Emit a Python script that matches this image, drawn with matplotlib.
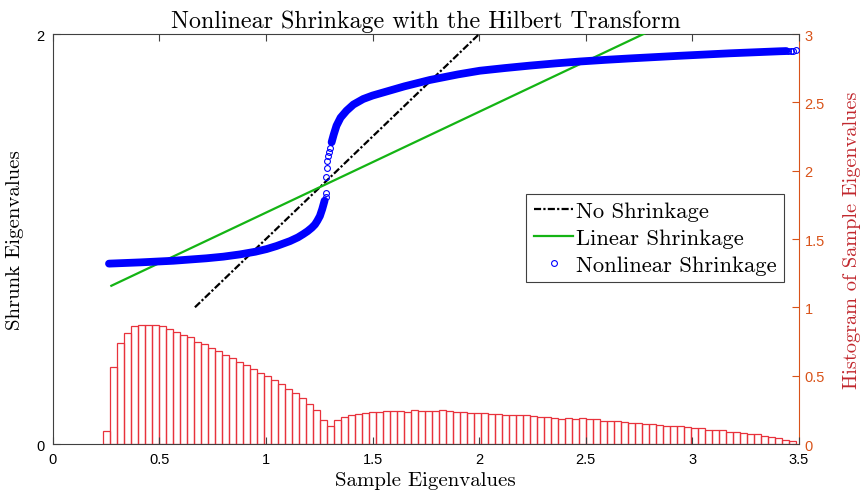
import numpy as np
import matplotlib
matplotlib.use('Agg')
import matplotlib.pyplot as plt
from matplotlib.lines import Line2D

# ---------------- data ----------------
hist_left_edge = 0.237
hist_right_edge = 3.488
hist_heights = [
    0.097, 0.56, 0.74, 0.81, 0.86, 0.87, 0.87, 0.87, 0.86, 0.84,
    0.82, 0.80, 0.78, 0.75, 0.73, 0.70, 0.68, 0.65, 0.63, 0.60,
    0.576, 0.55, 0.52, 0.50, 0.466, 0.437, 0.405, 0.375, 0.334, 0.295,
    0.25, 0.175, 0.13, 0.173, 0.197, 0.212, 0.22, 0.229, 0.234, 0.236,
    0.244,
    0.244, 0.244, 0.237, 0.246, 0.244, 0.242, 0.242, 0.246, 0.239, 0.232,
    0.237, 0.230, 0.227, 0.227, 0.217, 0.217, 0.215, 0.212, 0.212, 0.210,
    0.203, 0.200, 0.195, 0.193, 0.186, 0.193, 0.183, 0.188, 0.181,
    0.185, 0.168, 0.168, 0.168, 0.158, 0.151, 0.151, 0.149, 0.144, 0.142,
    0.132, 0.130, 0.130, 0.127, 0.115, 0.120, 0.105, 0.105, 0.102, 0.090,
    0.088, 0.078, 0.073, 0.071, 0.056, 0.049, 0.046, 0.032, 0.020,
]

no_shrink_x = [0.667, 3.49]
no_shrink_y = [0.667, 3.49]

linear_x = [0.275, 3.49]
linear_y = [0.772, 2.354]

nl_lower_x = [0.264, 0.409, 0.565, 0.721, 0.800, 0.878, 0.950, 1.003, 1.050, 1.113,
              1.150, 1.175, 1.195, 1.215, 1.230, 1.241, 1.253, 1.264, 1.275]
nl_lower_y = [0.880, 0.886, 0.894, 0.906, 0.914, 0.925, 0.938, 0.951, 0.966, 0.990,
              1.008, 1.024, 1.038, 1.055, 1.071, 1.089, 1.112, 1.146, 1.187]
nl_sparse_x = [1.280, 1.283, 1.283, 1.285, 1.288, 1.293, 1.297, 1.302]
nl_sparse_y = [1.205, 1.224, 1.301, 1.346, 1.382, 1.405, 1.423, 1.445]
nl_upper_x = [1.308, 1.318, 1.331, 1.350, 1.378, 1.410, 1.456, 1.500, 1.550, 1.650,
              1.769, 1.900, 2.003, 2.120, 2.238, 2.360, 2.472, 2.590, 2.706, 2.941,
              3.175, 3.410, 3.440]
nl_upper_y = [1.472, 1.510, 1.553, 1.592, 1.626, 1.656, 1.683, 1.700, 1.715, 1.745,
              1.776, 1.803, 1.821, 1.834, 1.846, 1.857, 1.866, 1.874, 1.881, 1.894,
              1.906, 1.916, 1.917]
nl_end_x = [3.450, 3.462, 3.474, 3.484]
nl_end_y = [1.918, 1.919, 1.919, 1.920]

x_ticks = [0, 0.5, 1, 1.5, 2, 2.5, 3, 3.5]
x_ticklabels = ['0', '0.5', '1', '1.5', '2', '2.5', '3', '3.5']
left_ticks = [0, 2]
left_ticklabels = ['0', '2']
right_ticks = [0, 0.5, 1, 1.5, 2, 2.5, 3]
right_ticklabels = ['0', '0.5', '1', '1.5', '2', '2.5', '3']

# ---------------- styling ----------------
SERIF = 'cmr10'
SANS = 'Liberation Sans'
ORANGE = '#D95319'
RIGHTLABEL = '#C1272D'
AXCOL = '#404040'
BLUE = '#0000FF'
GREEN = '#14B414'
HISTRED = '#E8323C'
NS_DASH = (0, (3.2, 1.0, 1.0, 1.0))

fig = plt.figure(figsize=(8.64, 5.02), dpi=100)
ax = fig.add_axes([0.061, 0.1135, 0.8638, 0.8167])
ax2 = ax.twinx()

# histogram on the right axis
n_bins = len(hist_heights)
edges = np.linspace(hist_left_edge, hist_right_edge, n_bins + 1)
ax2.bar(edges[:-1], hist_heights, width=np.diff(edges), align='edge',
        fill=False, edgecolor=HISTRED, linewidth=0.9, zorder=1)
ax2.set_ylim(0, 3)
ax2.set_yticks(right_ticks)
ax2.set_yticklabels(right_ticklabels, fontfamily=SANS, fontsize=10.5, color=ORANGE)
ax2.tick_params(axis='y', direction='in', length=5, width=0.8, color=ORANGE, pad=4)
ax2.spines['right'].set_color(ORANGE)
ax2.spines['right'].set_linewidth(0.8)
for s in ['left', 'top', 'bottom']:
    ax2.spines[s].set_visible(False)
ax2.set_ylabel('Histogram of Sample Eigenvalues', fontfamily=SERIF, fontsize=14.6,
               color=RIGHTLABEL, labelpad=13)

# curves on the left axis (drawn above the histogram)
ax.set_zorder(ax2.get_zorder() + 1)
ax.patch.set_visible(False)

ax.plot(no_shrink_x, no_shrink_y, color='black', linewidth=1.6,
        linestyle=NS_DASH, zorder=3)
ax.plot(linear_x, linear_y, color=GREEN, linewidth=1.6, zorder=3)
ax.plot(nl_lower_x, nl_lower_y, color=BLUE, linewidth=5.6,
        solid_capstyle='round', solid_joinstyle='round', zorder=4)
ax.plot(nl_upper_x, nl_upper_y, color=BLUE, linewidth=5.6,
        solid_capstyle='round', solid_joinstyle='round', zorder=4)
ax.plot(nl_sparse_x + nl_end_x, nl_sparse_y + nl_end_y, linestyle='none', marker='o',
        markersize=4.2, markerfacecolor='none', markeredgecolor=BLUE,
        markeredgewidth=0.8, zorder=4)

ax.set_xlim(0, 3.5)
ax.set_ylim(0, 2)
ax.set_xticks(x_ticks)
ax.set_xticklabels(x_ticklabels, fontfamily=SANS, fontsize=10.5)
ax.set_yticks(left_ticks)
ax.set_yticklabels(left_ticklabels, fontfamily=SANS, fontsize=10.5)
ax.tick_params(axis='x', direction='in', length=5, width=0.8, color=AXCOL,
               top=True, pad=6)
ax.tick_params(axis='y', direction='in', length=5, width=0.8, color=AXCOL, pad=6)
for s in ['left', 'top', 'bottom']:
    ax.spines[s].set_color(AXCOL)
    ax.spines[s].set_linewidth(0.8)
ax.spines['right'].set_visible(False)

ax.set_xlabel('Sample Eigenvalues', fontfamily=SERIF, fontsize=15, labelpad=3)
ax.set_ylabel('Shrunk Eigenvalues', fontfamily=SERIF, fontsize=15, labelpad=9)
ax.set_title('Nonlinear Shrinkage with the Hilbert Transform', fontfamily=SERIF,
             fontsize=17.3, pad=5)

handles = [
    Line2D([], [], color='black', linewidth=1.6, linestyle=NS_DASH),
    Line2D([], [], color=GREEN, linewidth=1.6),
    Line2D([], [], linestyle='none', marker='o', markersize=4.2,
           markerfacecolor='none', markeredgecolor=BLUE, markeredgewidth=0.8),
]
labels = ['No Shrinkage', 'Linear Shrinkage', 'Nonlinear Shrinkage']
leg = ax.legend(handles, labels, loc='upper left', bbox_to_anchor=(0.634, 0.611),
                prop={'family': SERIF, 'size': 16.3}, frameon=True, fancybox=False,
                edgecolor=AXCOL, framealpha=1, handlelength=1.75, handletextpad=0.1,
                borderpad=0.35, labelspacing=0.3, borderaxespad=0)
leg.get_frame().set_linewidth(0.8)

fig.savefig('out.png', dpi=100)
